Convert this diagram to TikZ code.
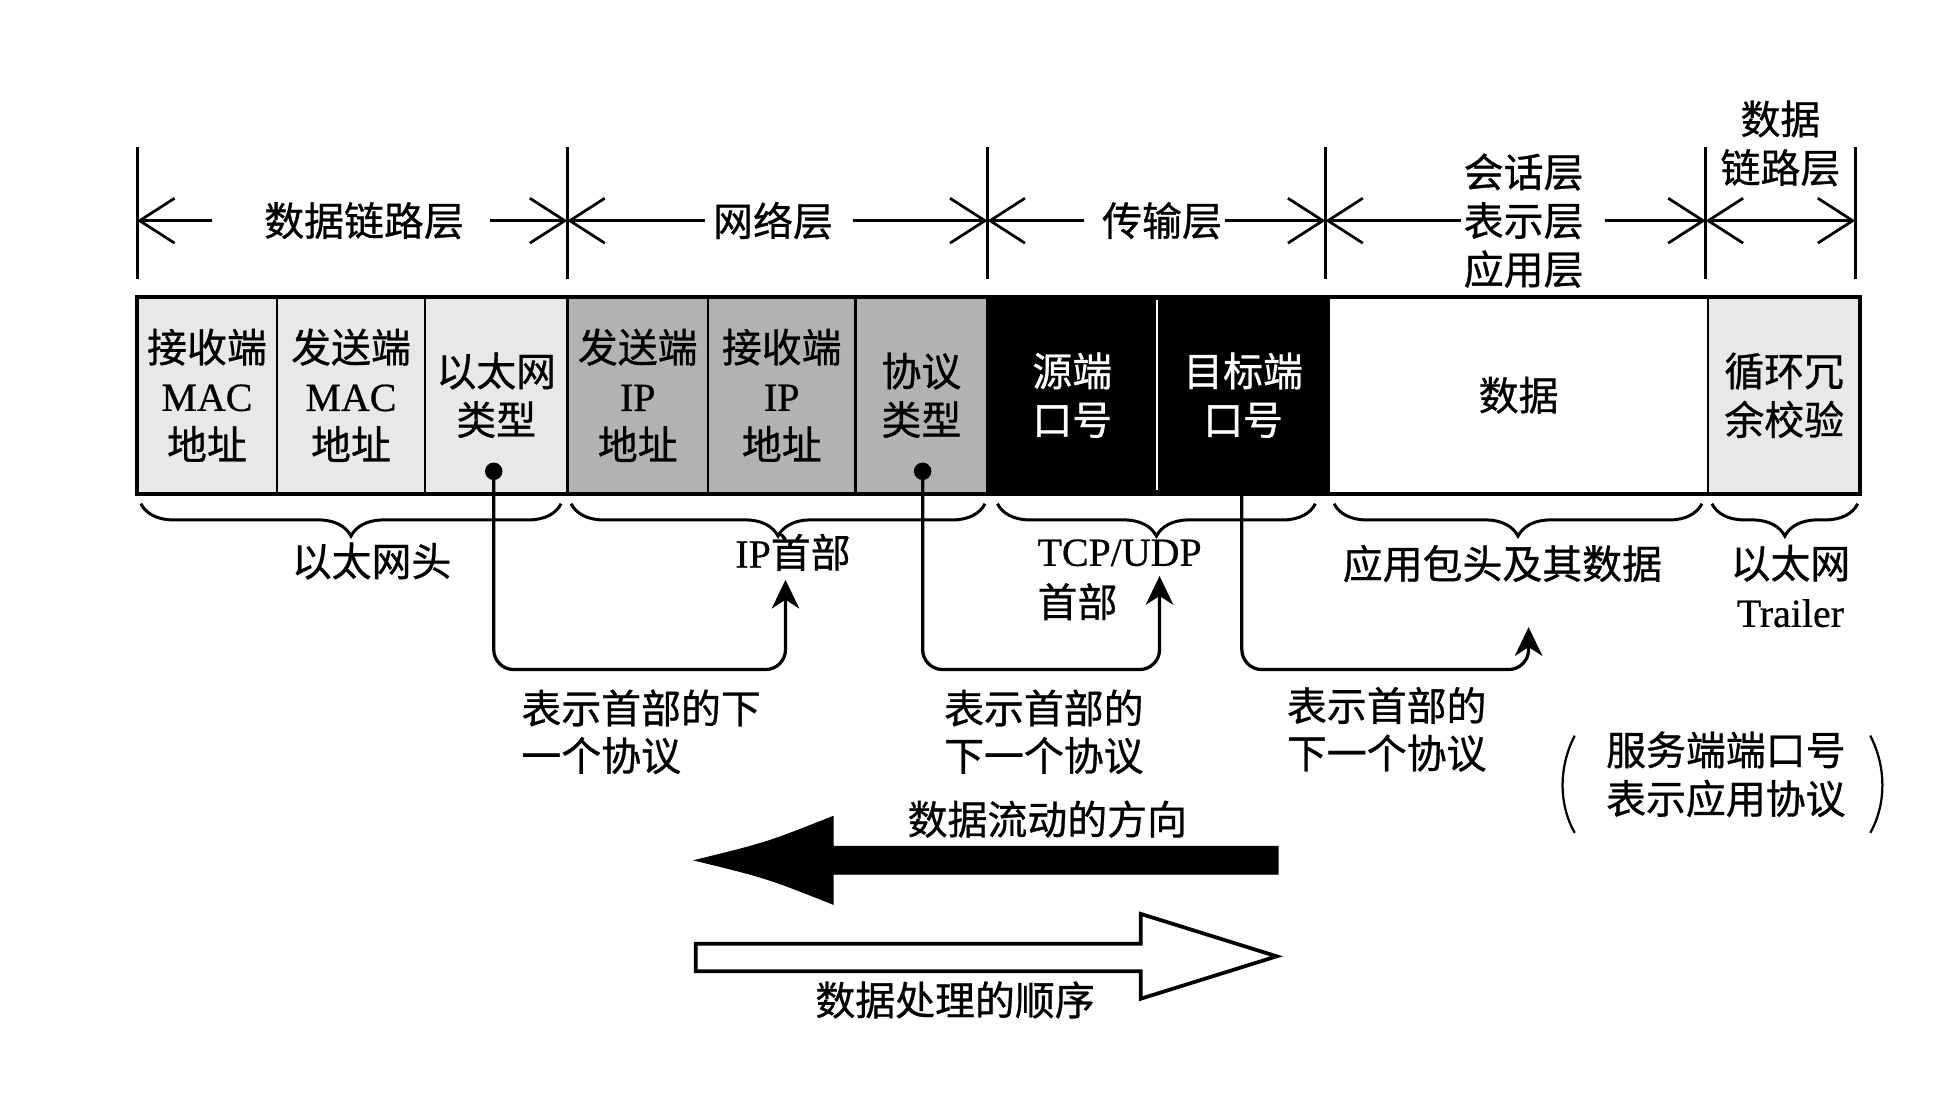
\documentclass[tikz,border=0pt]{standalone}
\usepackage{fontspec}
\setmainfont[FakeBold=0.6]{Liberation Serif}
\newfontfamily\cjk[FakeBold=0.8]{Noto Sans CJK SC}
\usetikzlibrary{arrows.meta,decorations.pathreplacing,calc}
\newcommand{\engl}[1]{{\rmfamily #1}}
\definecolor{lightfill}{gray}{0.91}
\definecolor{midfill}{gray}{0.70}
\begin{document}
\begin{tikzpicture}[x=1pt,y=-1pt,
  txt/.style={font=\cjk\fontsize{32}{39}\selectfont, inner sep=0pt, align=center},
  vline/.style={line width=2.2pt},
  lay/.style={line width=2.2pt, -{Straight Barb[length=28pt,width=36pt]}},
  laydbl/.style={line width=2.2pt, {Straight Barb[length=28pt,width=36pt]}-{Straight Barb[length=28pt,width=36pt]}},
  cell/.style={txt, draw=black, line width=2pt, minimum height=158pt, outer sep=0pt},
  light/.style={cell, fill=lightfill},
  mid/.style={cell, fill=midfill},
  dark/.style={cell, fill=black, text=white},
  plain/.style={cell, fill=white},
  brc/.style={line width=2.4pt, decorate, decoration={brace, mirror, amplitude=26pt}},
  conn/.style={line width=2.6pt, rounded corners=16pt, -{Stealth[length=23pt,width=22pt,inset=7pt]}},
  dot/.style={circle, fill=black, inner sep=0pt, minimum size=14pt},
  paren/.style={line width=1.8pt},
]
\useasboundingbox (0,0) rectangle (1568,888);

% ---- layer separators ----
\coordinate (v0) at (110,118);
\coordinate (v1) at (455,118);
\coordinate (v2) at (792,118);
\coordinate (v3) at (1063,118);
\coordinate (v4) at (1368,118);
\coordinate (v5) at (1488,118);
\foreach \v in {v0,v1,v2,v3,v4,v5} \draw[vline] (\v) -- ++(0,106);

% ---- layer labels ----
\node[txt] (L1) at (292,177) {数据链路层};
\node[txt] (L2) at (620,177) {网络层};
\node[txt] (L3) at (932,177) {传输层};
\node[txt] (L4) at (1222,177) {会话层\\表示层\\应用层};
\node[txt] (L5) at (1428,115) {数据\\链路层};

\draw[lay] ($(L1.west)+(-42,0)$) -- (L1 -| v0);
\draw[lay] ($(L1.east)+(21,0)$) -- (L1 -| v1);
\draw[lay] ($(L2.west)+(-6,0)$) -- (L2 -| v1);
\draw[lay] ($(L2.east)+(16,0)$) -- (L2 -| v2);
\draw[lay] ($(L3.west)+(-14,0)$) -- (L3 -| v2);
\draw[lay] ($(L3.east)+(2,0)$) -- (L3 -| v3);
\draw[lay] ($(L4.west)+(-2,0)$) -- (L4 -| v3);
\draw[lay] ($(L4.east)+(17,0)$) -- (L4 -| v4);
\draw[laydbl] (L1 -| v4) -- (L1 -| v5);

% ---- header cells ----
\node[light, minimum width=112pt] (c1) at (166,317) {接收端\\\engl{MAC}\\地址};
\node[light, minimum width=119pt] (c2) at (281.5,317) {发送端\\\engl{MAC}\\地址};
\node[light, minimum width=114pt] (c3) at (398,317) {以太网\\类型};
\node[mid, minimum width=113pt] (c4) at (511.5,317) {发送端\\\engl{IP}\\地址};
\node[mid, minimum width=118pt] (c5) at (627,317) {接收端\\\engl{IP}\\地址};
\node[mid, minimum width=106pt] (c6) at (739,317) {协议\\类型};
\node[dark, minimum width=136pt] (c7) at (860,317) {源端\\口号};
\node[dark, minimum width=138pt] (c8) at (997,317) {目标端\\口号};
\node[plain, minimum width=304pt] (c9) at (1218,317) {数据};
\node[light, minimum width=122pt] (c10) at (1431,317) {循环冗\\余校验};
\draw[white, line width=1.6pt] ($(c7.north east)+(0,3)$) -- ($(c7.south east)+(0,-3)$);
\draw[line width=3.5pt] (c1.north west) rectangle (c10.south east);

\node[dot] (d1) at (396,378) {};
\node[dot] (d2) at (740,378) {};

% ---- braces ----
\draw[brc] ($(c1.south west)+(3,8)$) -- ($(c3.south east)+(-5,8)$);
\draw[brc] ($(c4.south west)+(3,8)$) -- ($(c6.south east)+(-2,8)$);
\draw[brc] ($(c7.south west)+(8,8)$) -- ($(c8.south east)+(-11,8)$);
\draw[brc] ($(c9.south west)+(4,8)$) -- ($(c9.south east)+(-5,8)$);
\draw[brc] ($(c10.south west)+(3,8)$) -- ($(c10.south east)+(-2,8)$);

\node[txt] (h1) at (298,450) {以太网头};
\node[txt] (h2) at (636,443) {\engl{IP}首部};
\node[txt, align=left, anchor=west, font=\cjk\fontsize{32}{41}\selectfont] (h3) at (832,465) {\engl{TCP/UDP}\\首部};
\node[txt] (h4) at (1205,452) {应用包头及其数据};
\node[txt] (h5) at (1436,470) {以太网\\\engl{Trailer}};

% ---- next-protocol connectors ----
\coordinate (t1) at (630,465);
\coordinate (t2) at (930,462);
\coordinate (t3) at (1226,503);
\draw[conn] (d1.center) |- ($(t1)+(0,72)$) -- (t1);
\draw[conn] (d2.center) |- ($(t2)+(0,75)$) -- (t2);
\draw[conn] ($(c8.south)+(-1,0)$) |- ($(t3)+(0,34)$) -- (t3);

\node[txt, align=left, anchor=west, font=\cjk\fontsize{32}{38}\selectfont] (n1) at (418,587) {表示首部的下\\一个协议};
\node[txt, align=left, anchor=west, font=\cjk\fontsize{32}{38}\selectfont] (n2) at (757,587) {表示首部的\\下一个协议};
\node[txt, align=left, anchor=west, font=\cjk\fontsize{32}{38}\selectfont] (n3) at (1032,585) {表示首部的\\下一个协议};
\node[txt, align=left, anchor=west] (n4) at (1288,621) {服务端端口号\\表示应用协议};
\draw[paren] (1263,590) .. controls (1250,615) and (1250,645) .. (1263,668);
\draw[paren] (1500,590) .. controls (1513,615) and (1513,645) .. (1500,668);

% ---- direction arrows ----
\node[txt] (flow) at (840,657) {数据流动的方向};
\draw[fill=black, line width=1pt] (1025,679) -- (668,679) -- (668,655)
  .. controls (615,676) .. (558,690) .. controls (615,704) .. (668,725)
  -- (668,701) -- (1025,701) -- cycle;
\draw[fill=white, line width=3pt, line join=miter] (558,757) -- (915,757) -- (915,733)
  -- (1024,767) -- (915,801)
  -- (915,779) -- (558,779) -- cycle;
\node[txt] (order) at (766,802) {数据处理的顺序};
\end{tikzpicture}
\end{document}
